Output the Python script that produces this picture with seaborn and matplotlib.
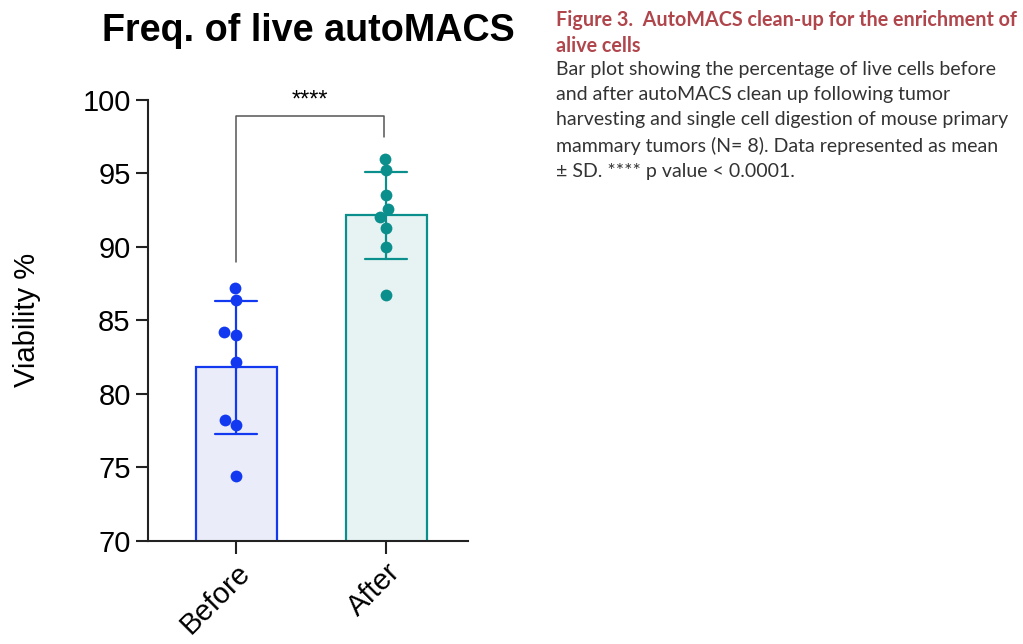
import matplotlib
matplotlib.use("Agg")
import matplotlib.pyplot as plt
import seaborn as sns
import pandas as pd

# data
groups = ["Before", "After"]
before_vals = [87.2, 86.4, 84.0, 84.2, 82.2, 78.2, 77.9, 74.4]
after_vals = [96.0, 95.2, 93.5, 92.6, 92.0, 91.3, 90.0, 86.7]
edge_colors = ["#1238f0", "#0b8f8c"]
fill_colors = ["#e7eafc", "#e5f3f5"]
sig_label = "****"

caption_title = "Figure 3.  AutoMACS clean-up for the enrichment of\nalive cells"
caption_body = ("Bar plot showing the percentage of live cells before\n"
                "and after autoMACS clean up following tumor\n"
                "harvesting and single cell digestion of mouse primary\n"
                "mammary tumors (N= 8). Data represented as mean\n"
                "\u00b1 SD. **** p value < 0.0001.")

df = pd.DataFrame({
    "group": ["Before"] * len(before_vals) + ["After"] * len(after_vals),
    "value": before_vals + after_vals,
})

sns.set_style("ticks")
plt.rcParams["font.family"] = ["Liberation Sans", "DejaVu Sans"]
plt.rcParams["text.color"] = "black"
plt.rcParams["axes.labelcolor"] = "black"
plt.rcParams["xtick.color"] = "black"
plt.rcParams["ytick.color"] = "black"

fig = plt.figure(figsize=(10.23, 6.44), dpi=100)
ax = fig.add_axes([0.1447, 0.160, 0.313, 0.685])

for g, ec, fc in zip(groups, edge_colors, fill_colors):
    sub = df[df["group"] == g]
    sns.barplot(data=sub, x="group", y="value", order=groups, ax=ax,
                color=fc, edgecolor=ec, linewidth=1.6, width=0.54,
                errorbar="sd", capsize=0.28,
                err_kws={"color": ec, "linewidth": 1.6})

# error bars above the bar fill
for line in ax.lines:
    line.set_zorder(3)

for g, ec in zip(groups, edge_colors):
    sub = df[df["group"] == g]
    sns.swarmplot(data=sub, x="group", y="value", order=groups, ax=ax,
                  color=ec, size=8.5, zorder=5)

ax.set_ylim(70, 100)
ax.set_xlim(-0.587, 1.547)
ax.set_yticks([70, 75, 80, 85, 90, 95, 100])
ax.tick_params(axis="both", labelsize=21, width=1.5, length=9, color="#222222")
ax.set_xticks(range(len(groups)))
ax.set_xticklabels(groups, rotation=45, ha="right", rotation_mode="anchor")
ax.set_xlabel("")
ax.set_ylabel("Viability %", fontsize=21, labelpad=30)
for s in ["left", "bottom"]:
    ax.spines[s].set_linewidth(1.5)
    ax.spines[s].set_color("#222222")
sns.despine(ax=ax)

ax.set_title("Freq. of live autoMACS", fontsize=27.2, fontweight="bold", pad=42)

# significance bracket
y_top = 98.9
ax.plot([0, 0, 0.987, 0.987], [89.0, y_top, y_top, 97.5], color="#555555",
        lw=1.1, clip_on=False)
ax.text(0.49, y_top + 0.3, sig_label, ha="center", va="bottom", fontsize=17,
        clip_on=False)

fig.text(0.5435, 0.985, caption_title, fontsize=14.2, fontweight="bold",
         color="#b0464c", family=["Lato", "DejaVu Sans"], va="top",
         linespacing=1.42)
fig.text(0.5435, 0.905, caption_body, fontsize=14.0, color="#333333",
         family=["Lato", "DejaVu Sans"], va="top", linespacing=1.57)

fig.savefig("out.png", dpi=100)
